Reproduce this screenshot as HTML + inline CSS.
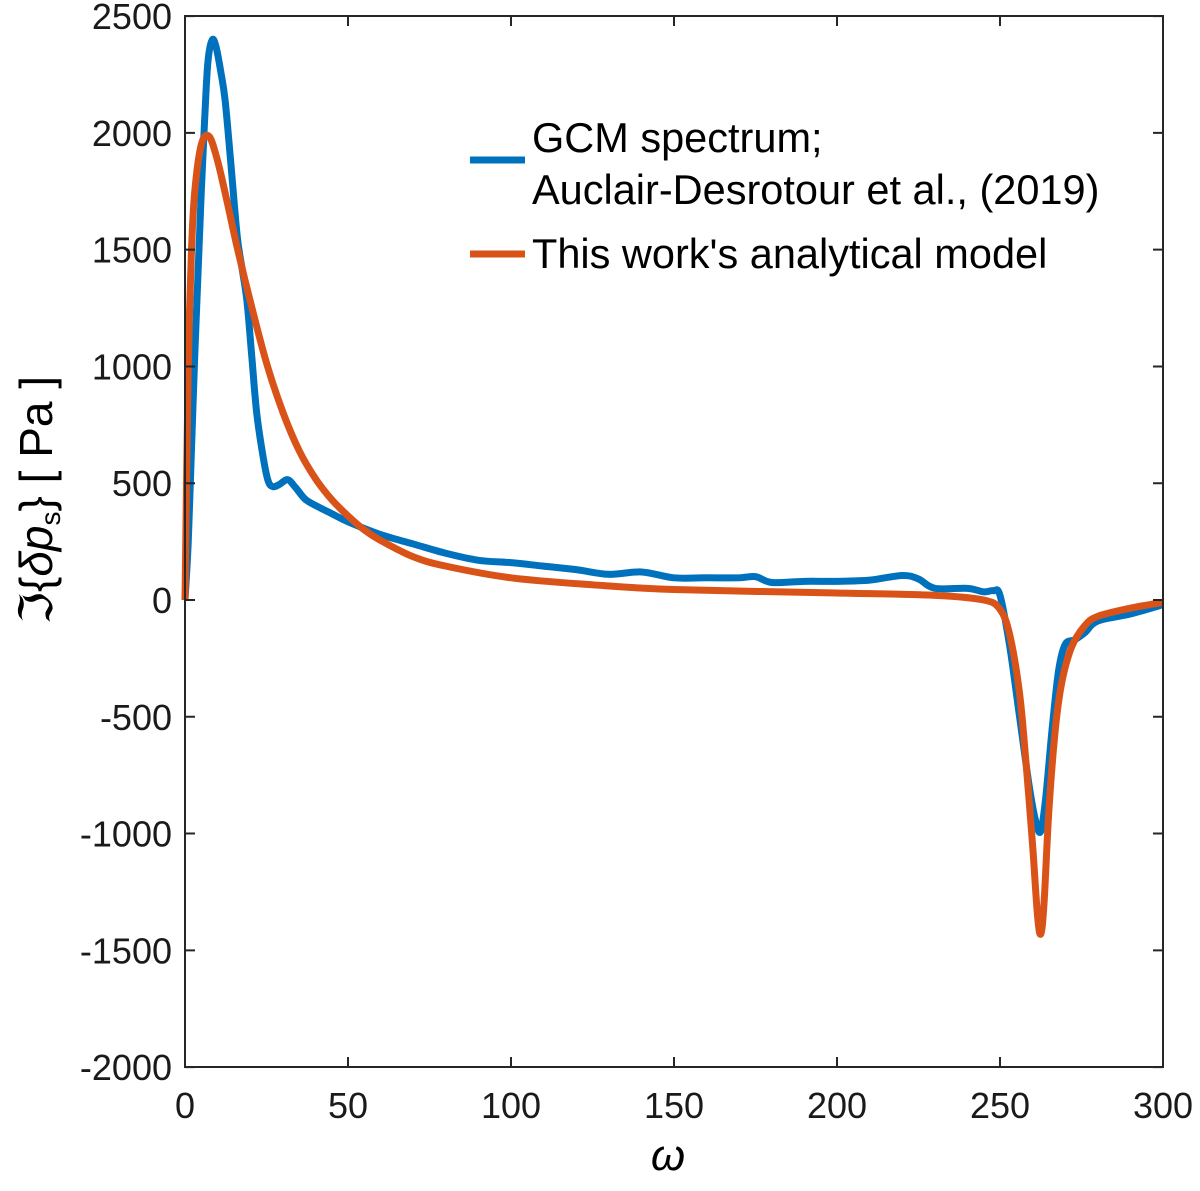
<!DOCTYPE html>
<html><head><meta charset="utf-8"><style>
body{margin:0;background:#fff}
svg text{font-family:"Liberation Sans",sans-serif}
</style></head><body>
<svg id="chart" width="1200" height="1186" viewBox="0 0 1200 1186" xmlns="http://www.w3.org/2000/svg">
<g id="series"></g>
<rect x="185" y="16" width="978" height="1051" fill="none" stroke="#262626" stroke-width="2"/>
<g id="ticks"></g>
<text x="668" y="1170" font-family="Liberation Serif,serif" font-style="italic" font-size="44" text-anchor="middle">ω</text>
<text transform="translate(52,500) rotate(-90)" font-family="Liberation Serif,serif" font-size="46" text-anchor="middle">ℑ{<tspan font-style="italic">δp</tspan><tspan font-size="28" dy="8">s</tspan><tspan dy="-8">}    [ Pa ]</tspan></text>
<g>
<line x1="470" y1="160" x2="525" y2="160" stroke="#0072BD" stroke-width="7"/>
<text x="532" y="152" font-size="41.5" fill="#000">GCM spectrum;</text>
<text x="532" y="204" font-size="41.5" fill="#000">Auclair-Desrotour et al., (2019)</text>
<line x1="470" y1="254" x2="525" y2="254" stroke="#D95319" stroke-width="7"/>
<text x="532" y="268" font-size="41.5" fill="#000">This work's analytical model</text>
</g>
</svg>
<script>
const xTicks=[0,50,100,150,200,250,300];
const yTicks=[2500,2000,1500,1000,500,0,-500,-1000,-1500,-2000];
const gcmW=[0,1,2,3,4,5,6,7,8.3,9.5,11,12.3,14,16,17.5,19,20.5,22,24,25.5,27,29,31.5,34,37,41,45,50,60,70,80,90,100,110,120,130,140,150,160,170,175,180,190,200,210,220,225,230,240,245,248,250,253,256,259,261,262.5,264,266,268,270,273,276,280,290,300];
const gcmV=[0,250,650,1050,1400,1750,2050,2300,2397,2370,2260,2140,1880,1560,1420,1280,1040,800,610,510,485,495,515,480,430,398,370,335,280,240,200,170,160,145,130,110,120,95,95,95,100,75,80,80,85,105,90,50,50,35,40,20,-200,-500,-800,-950,-990,-850,-550,-300,-190,-170,-140,-90,-60,-20];
const modW=[0,1,2,3,5,7.4,10,13,16,20,25,30,35,40,45,50,55,60,70,80,100,125,150,200,230,245,250,253,256,258,260,261.5,262.5,263.5,265,267,269,272,276,280,290,300];
const modV=[0,1000,1500,1750,1950,1985,1880,1700,1510,1280,1015,805,640,520,430,360,300,255,185,145,95,65,45,30,20,0,-40,-150,-400,-700,-1050,-1350,-1430,-1300,-900,-550,-350,-200,-110,-70,-35,-10];
const X0=185,X1=1163,Y0=600,YS=0.23356;
const xs=w=>X0+(X1-X0)*w/300;
const ys=v=>Y0-v*YS;
const NS="http://www.w3.org/2000/svg";
const ticks=document.getElementById('ticks');
function mk(t,a){const e=document.createElementNS(NS,t);for(const k in a)e.setAttribute(k,a[k]);return e;}
xTicks.forEach(t=>{
 const x=xs(t);
 const l=mk('path',{d:`M${x},1067v-10M${x},16v10`,stroke:'#262626','stroke-width':2});
 
 
 ticks.appendChild(l);
 const tx=mk('text',{x:x,y:1118,'font-size':36,'text-anchor':'middle',fill:'#1a1a1a'});
 tx.textContent=t;
 
 
 ticks.appendChild(tx);
});
yTicks.forEach(t=>{
 const y=ys(t);
 const l=mk('path',{d:`M185,${y}h10M1163,${y}h-10`,stroke:'#262626','stroke-width':2});
 
 
 ticks.appendChild(l);
 const tx=mk('text',{x:172,y:y+13,'font-size':36,'text-anchor':'end',fill:'#1a1a1a'});
 tx.textContent=t;
 
 
 ticks.appendChild(tx);
});
function smooth(W,V){
 const p=W.map((w,i)=>[xs(w),ys(V[i])]);
 let d=`M${p[0][0]},${p[0][1]}`;
 for(let i=0;i<p.length-1;i++){
  const a=p[Math.max(i-1,0)],b=p[i],c=p[i+1],e=p[Math.min(i+2,p.length-1)];
  const c1=[b[0]+(c[0]-a[0])/6,b[1]+(c[1]-a[1])/6],c2=[c[0]-(e[0]-b[0])/6,c[1]-(e[1]-b[1])/6];
  d+=`C${c1[0]},${c1[1]} ${c2[0]},${c2[1]} ${c[0]},${c[1]}`;
 }
 return d;
}
const g=document.getElementById('series');
const pg=mk('path',{d:smooth(gcmW,gcmV),fill:'none',stroke:'#0072BD','stroke-width':7,'stroke-linejoin':'round'});


g.appendChild(pg);
const pm=mk('path',{d:smooth(modW,modV),fill:'none',stroke:'#D95319','stroke-width':7,'stroke-linejoin':'round'});


g.appendChild(pm);
</script>
</body></html>
